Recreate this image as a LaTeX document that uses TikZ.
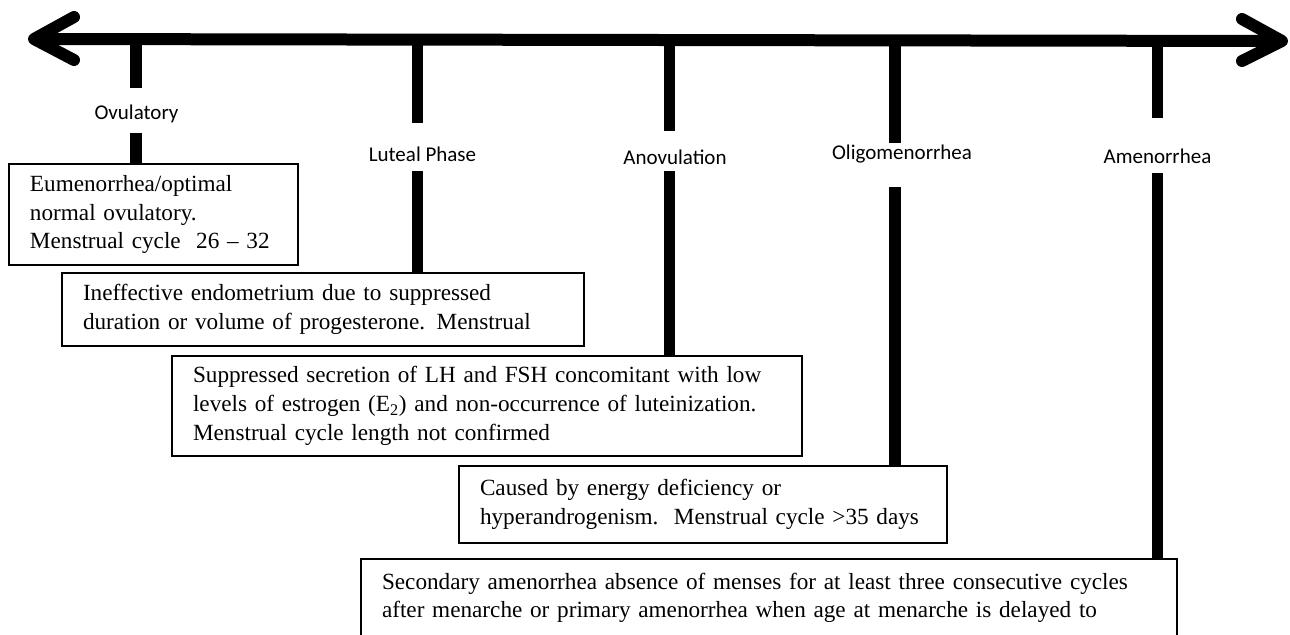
\documentclass[tikz,border=0pt]{standalone}
\usepackage{fontspec}
\setmainfont{Liberation Serif}
\newfontfamily\serifbox{Liberation Serif}
\newfontfamily\labfam{Carlito}
\newcommand\bxfont{\serifbox\fontsize{17.4}{21.5}\selectfont}
\newcommand\labfont{\labfam\fontsize{15.75}{18}\selectfont}
\newcommand\bxline[1]{\mbox{#1}}
\tikzset{
  box/.style={draw, line width=0.8pt, inner xsep=15.75pt, inner ysep=0pt, align=left, font=\bxfont},
  lab/.style={font=\labfont, inner sep=0pt, anchor=base},
  tickline/.style={line width=8.6pt},
  axisline/.style={line width=9pt},
  chevron/.style={line width=9pt, line cap=round, line join=round},
}
\begin{document}
\begin{tikzpicture}[x=0.75pt, y=-0.75pt]
\useasboundingbox (0,0) rectangle (1290,635);
\clip (0,0) rectangle (1290,635);

% axis
\coordinate (L) at (34,39);
\coordinate (R) at (1282,41);
\coordinate (la) at (74,17);
\coordinate (lb) at (74,60);
\coordinate (ra) at (1242,19);
\coordinate (rb) at (1242,61);
\draw[axisline] (L) -- (R);
\draw[chevron] (la) -- (L) -- (lb);
\draw[chevron] (ra) -- (R) -- (rb);

% labels
\node[lab] (n1) at (136.5,119) {Ovulatory};
\node[lab] (n2) at (422.5,161.5) {Luteal Phase};
\node[lab] (n3) at (675,164.5) {Anovulation};
\node[lab] (n4) at (902,160) {Oligomenorrhea};
\node[lab] (n5) at (1157.5,163.5) {Amenorrhea};

% boxes
\node[box, text width=185.25pt, minimum height=75.75pt] (b1) at (153.5,214.5)
  {\bxline{Eumenorrhea/optimal}\\ \bxline{normal ovulatory.}\\ \bxline{Menstrual cycle\ \ 26 – 32}};
\node[box, text width=360pt, minimum height=54.75pt] (b2) at (323,309.5)
  {\bxline{Ineffective endometrium due to suppressed}\\ \bxline{duration or volume of progesterone. Menstrual}};
\node[box, text width=441pt, minimum height=75pt] (b3) at (487,406)
  {\bxline{Suppressed secretion of LH and FSH concomitant with low}\\ \bxline{levels of estrogen (E\textsubscript{2}) and non-occurrence of luteinization.}\\ \bxline{Menstrual cycle length not confirmed}};
\node[box, text width=334.5pt, minimum height=57.75pt] (b4) at (703,504.5)
  {\bxline{Caused by energy deficiency or}\\ \bxline{hyperandrogenism.\ \ Menstrual cycle >35 days}};
\node[box, text width=580.5pt, minimum height=75.75pt] (b5) at (769,609.5)
  {\bxline{Secondary amenorrhea absence of menses for at least three consecutive cycles}\\ \bxline{after menarche or primary amenorrhea when age at menarche is delayed to}\\ \mbox{}};

% tick end points
\coordinate (u1) at (136,88);    \coordinate (l1) at (136,133);
\coordinate (u2) at (417.5,123); \coordinate (l2) at (417.5,171);
\coordinate (u3) at (669.5,131); \coordinate (l3) at (669.5,171);
\coordinate (u4) at (895,143);   \coordinate (l4) at (895,187);
\coordinate (u5) at (1157.5,118);\coordinate (l5) at (1157.5,173);

\foreach \i in {1,...,5}{
  \draw[tickline] (u\i |- L) -- (u\i);
  \draw[tickline] (l\i) -- (l\i |- b\i.north);
}
\end{tikzpicture}
\end{document}
